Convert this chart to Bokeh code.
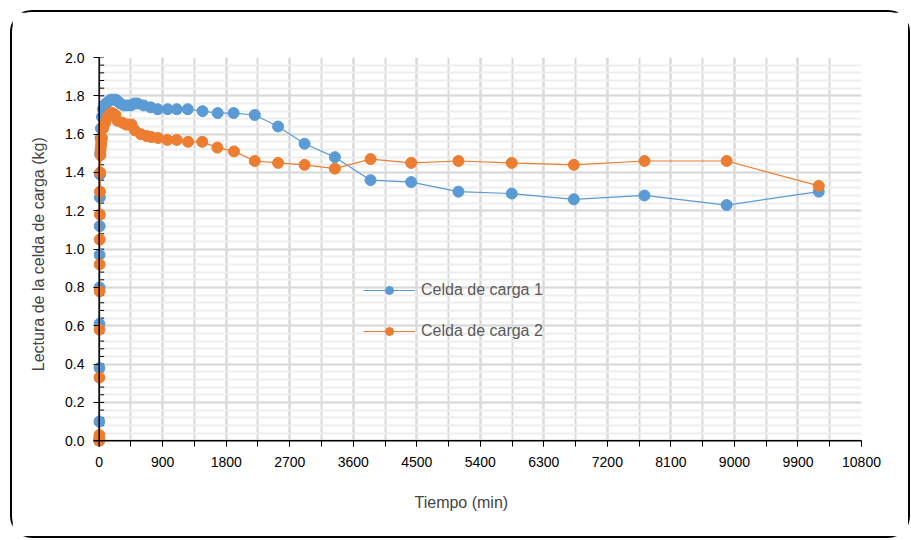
from bokeh.plotting import figure
from bokeh.models import (FixedTicker, Legend, LegendItem, Title, Range1d, Span,
                          NumeralTickFormatter, BoxAnnotation)
from bokeh.embed import file_html
from bokeh.resources import INLINE

# ---- data ----
t1 = [0, 1, 2, 3, 4, 5, 6, 8, 10, 12, 15, 20, 25, 40, 55, 75, 95, 130, 165, 200,
      235, 270, 300, 350, 400, 450, 500, 545, 630, 730, 830, 970, 1100, 1255, 1465,
      1680, 1905, 2205, 2535, 2910, 3340, 3845, 4420, 5090, 5845, 6725, 7725, 8890, 10195]
y1 = [0.0, 0.01, 0.10, 0.38, 0.61, 0.80, 0.97, 1.12, 1.27, 1.39, 1.50, 1.58, 1.63, 1.69,
      1.73, 1.75, 1.76, 1.77, 1.78, 1.78, 1.78, 1.77, 1.76, 1.75, 1.75, 1.75, 1.76, 1.76,
      1.75, 1.74, 1.73, 1.73, 1.73, 1.73, 1.72, 1.71, 1.71, 1.70, 1.64, 1.55, 1.48, 1.36,
      1.35, 1.30, 1.29, 1.26, 1.28, 1.23, 1.30]

t2 = [0, 1, 2, 3, 4, 5, 6, 8, 10, 12, 15, 18, 20, 25, 30, 40, 55, 85, 120, 160, 190,
      230, 260, 330, 380, 420, 460, 505, 590, 675, 740, 835, 965, 1100, 1260, 1460, 1675,
      1910, 2205, 2535, 2910, 3340, 3845, 4420, 5090, 5845, 6725, 7725, 8890, 10195]
y2 = [0.0, 0.01, 0.03, 0.33, 0.58, 0.78, 0.92, 1.05, 1.18, 1.30, 1.40, 1.49, 1.52, 1.54,
      1.56, 1.58, 1.63, 1.66, 1.69, 1.71, 1.71, 1.70, 1.67, 1.66, 1.65, 1.65, 1.65, 1.62,
      1.60, 1.59, 1.585, 1.58, 1.57, 1.57, 1.56, 1.56, 1.53, 1.51, 1.46, 1.45, 1.44, 1.42,
      1.47, 1.45, 1.46, 1.45, 1.44, 1.46, 1.46, 1.33]

x_major = list(range(0, 10801, 900))
x_minor = list(range(0, 10801, 450))
y_major = [round(0.2 * i, 1) for i in range(11)]
y_minor = [round(0.04 * i, 2) for i in range(51)]

names = ["Celda de carga 1", "Celda de carga 2"]
colors = ["#5B9BD5", "#ED7D31"]
x_title = "Tiempo (min)"
y_title = "Lectura de la celda de carga  (kg)"

FONT = "Liberation Sans"

p = figure(width=900, height=528, output_backend="svg", toolbar_location=None,
           x_range=Range1d(-80, 10800), y_range=Range1d(-0.03, 2.0),
           min_border_left=81, min_border_right=51, min_border_top=45, min_border_bottom=94)
p.styles = {"border": "2px solid black", "border-radius": "22px",
            "margin-left": "10px", "margin-top": "10px"}
p.outline_line_color = None
p.background_fill_color = "white"
p.border_fill_color = "white"

p.xaxis.ticker = FixedTicker(ticks=x_major, minor_ticks=x_minor)
p.yaxis.ticker = FixedTicker(ticks=y_major, minor_ticks=y_minor)
p.yaxis.formatter = NumeralTickFormatter(format="0.0")
p.xaxis.formatter = NumeralTickFormatter(format="0")

for ax in (p.xaxis[0], p.yaxis[0]):
    ax.axis_line_color = None
    ax.major_tick_line_color = "black"
    ax.minor_tick_line_color = "black"
    ax.major_tick_line_width = 1
    ax.minor_tick_line_width = 1
    ax.major_label_text_font = FONT
    ax.major_label_text_font_size = "14px"
    ax.major_label_text_color = "#000000"
    ax.major_tick_out = 0
    ax.minor_tick_out = 0
# ticks reach from the frame edge to the zero lines (the real axis lines)
p.xaxis.major_tick_in = 6
p.xaxis.minor_tick_in = 6
p.yaxis.major_tick_in = 6
p.yaxis.minor_tick_in = 0
p.yaxis.minor_tick_line_color = None
p.xaxis.major_label_standoff = 10
p.yaxis.major_label_standoff = 9

p.yaxis.axis_label = y_title
p.yaxis.axis_label_text_font = FONT
p.yaxis.axis_label_text_font_size = "16px"
p.yaxis.axis_label_text_font_style = "normal"
p.yaxis.axis_label_standoff = 15

p.xgrid.grid_line_color = "#d9d9d9"
p.xgrid.grid_line_width = 2
p.xgrid.minor_grid_line_color = "#d9d9d9"
p.xgrid.minor_grid_line_width = 2
p.ygrid.grid_line_color = "#d9d9d9"
p.ygrid.grid_line_width = 2
p.ygrid.minor_grid_line_color = "#eeeeee"
p.ygrid.minor_grid_line_width = 2

# white masks so gridlines do not extend past the zero axes
p.add_layout(BoxAnnotation(right=0, fill_color="white", fill_alpha=1, line_alpha=0, level="underlay"))
p.add_layout(BoxAnnotation(top=0, fill_color="white", fill_alpha=1, line_alpha=0, level="underlay"))
# axis lines at zero
p.add_layout(Span(location=0, dimension="width", line_color="black", line_width=1.5, level="guide"))
p.add_layout(Span(location=0, dimension="height", line_color="black", line_width=1.5, level="guide"))
# inside minor ticks on the value axis
p.ray(x=[0] * len(y_minor), y=y_minor, length=5, length_units="screen", angle=0,
      line_color="black", line_width=1)

items = []
for t, y, c, n in [(t1, y1, colors[0], names[0]), (t2, y2, colors[1], names[1])]:
    l = p.line(t, y, line_color=c, line_width=1.2)
    s = p.scatter(t, y, size=11, fill_color=c, line_color=c)
    items.append(LegendItem(label=n, renderers=[l, s]))

leg = Legend(items=items, location=(270, 105), background_fill_alpha=0,
             border_line_color=None, label_text_font=FONT, label_text_font_size="16px",
             label_text_color="#595959", glyph_width=52, glyph_height=20, spacing=21,
             padding=4, margin=0, label_standoff=6)
p.add_layout(leg)

p.add_layout(Title(text=x_title, align="left", offset=321, text_font=FONT,
                   text_font_size="16px", text_font_style="normal", standoff=44), "below")

open("out.html", "w").write(file_html(p, INLINE))
